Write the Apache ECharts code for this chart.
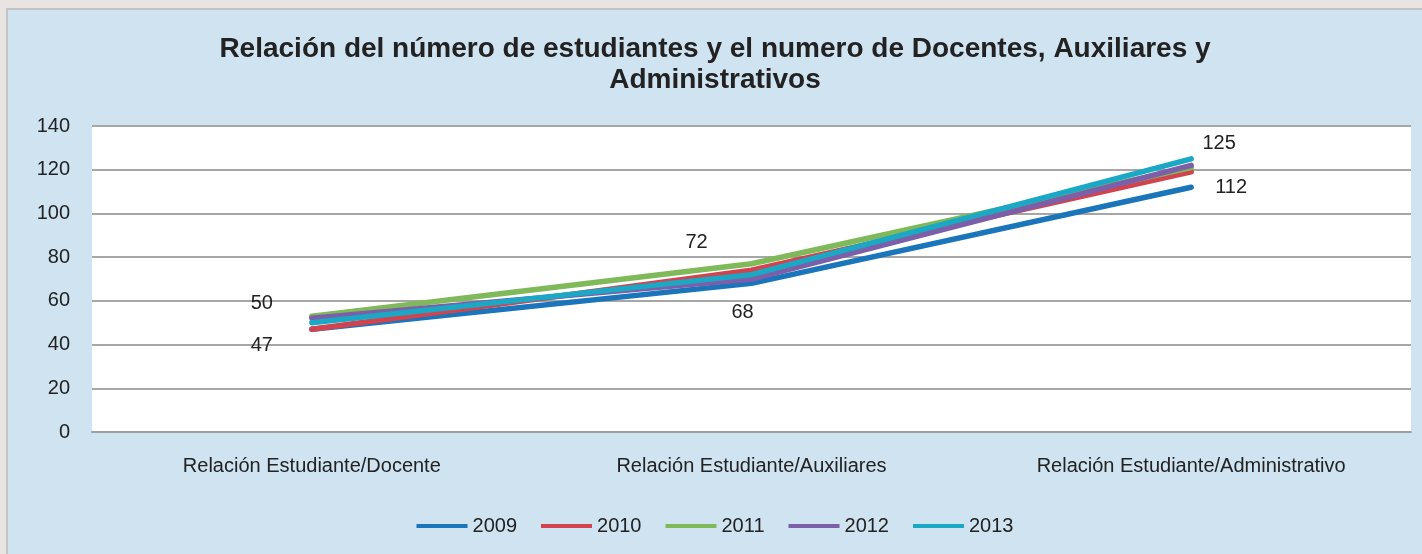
<!DOCTYPE html>
<html>
<head>
<meta charset="utf-8">
<script src="https://cdn.jsdelivr.net/npm/echarts@6/dist/echarts.min.js"></script>
<style>
  html, body { margin: 0; padding: 0; background: #e8e4e2; overflow: hidden; }
  #chart {
    position: absolute; left: 6px; top: 8px; width: 1416px; height: 546px;
    border-left: 2px solid #c3c3c3; border-top: 2px solid #c3c3c3;
    box-sizing: border-box; background: #cfe3f1;
  }
</style>
</head>
<body>
<div id="chart"></div>
<script>
var categories = ['Relación Estudiante/Docente', 'Relación Estudiante/Auxiliares', 'Relación Estudiante/Administrativo'];
var years = ['2009', '2010', '2011', '2012', '2013'];
var v2009 = [47, 68, 112];
var v2010 = [47, 74, 119];
var v2011 = [53, 77, 121];
var v2012 = [52, 70, 122];
var v2013 = [50, 72, 125];
var yTicks = [0, 20, 40, 60, 80, 100, 120, 140];

var colors = ['#1b75bb', '#d1444f', '#7fb95a', '#7d5ea8', '#1aa8c4'];
var values = [v2009, v2010, v2011, v2012, v2013];
var font = 'Liberation Sans, Arial, sans-serif';

// label offsets for the labelled series (2009 below, 2013 above)
var labelOffsets = {
    0: [[-50, 16], [-9, 29], [40, 0]],
    4: [[-50, -19], [-55, -32], [28, -15]]
};

var series = years.map(function (name, i) {
    var data = values[i].map(function (v, j) {
        var item = {value: v};
        if (labelOffsets[i]) {
            item.label = {
                show: true,
                position: 'inside',
                offset: labelOffsets[i][j],
                color: '#222',
                fontSize: 20,
                fontFamily: font
            };
        }
        return item;
    });
    return {
        name: name,
        type: 'line',
        data: data,
        symbol: 'circle',
        symbolSize: 0.1,
        showSymbol: true,
        lineStyle: {width: 5.5, color: colors[i], cap: 'round'},
        itemStyle: {color: colors[i]}
    };
});

var option = {
    backgroundColor: '#cfe3f1',
    animation: false,
    title: {
        text: 'Relación del número de estudiantes y el numero de Docentes, Auxiliares y\nAdministrativos',
        left: 'center',
        top: 19,
        textStyle: {
            fontFamily: font, fontWeight: 'bold', fontSize: 28, lineHeight: 31, color: '#222'
        }
    },
    legend: {
        bottom: 13,
        left: 'center',
        icon: 'rect',
        itemWidth: 51,
        itemHeight: 4,
        itemGap: 24,
        data: years,
        textStyle: {fontFamily: font, fontSize: 20, color: '#222', padding: [0, 0, 0, 0]}
    },
    grid: {left: 84, right: 11, top: 116, bottom: 122, backgroundColor: '#fff', show: true, borderWidth: 0},
    xAxis: {
        type: 'category',
        data: categories,
        boundaryGap: true,
        axisLine: {lineStyle: {color: '#a0a0a0', width: 2}},
        axisTick: {show: false},
        axisLabel: {fontFamily: font, fontSize: 20, color: '#222', margin: 24}
    },
    yAxis: {
        type: 'value',
        min: yTicks[0],
        max: yTicks[yTicks.length - 1],
        interval: 20,
        axisLine: {show: false},
        axisTick: {show: false},
        splitLine: {lineStyle: {color: '#a6a6a6', width: 2}},
        axisLabel: {fontFamily: font, fontSize: 20, color: '#222', margin: 22}
    },
    series: series
};
echarts.init(document.getElementById('chart')).setOption(option);
</script>
</body>
</html>
